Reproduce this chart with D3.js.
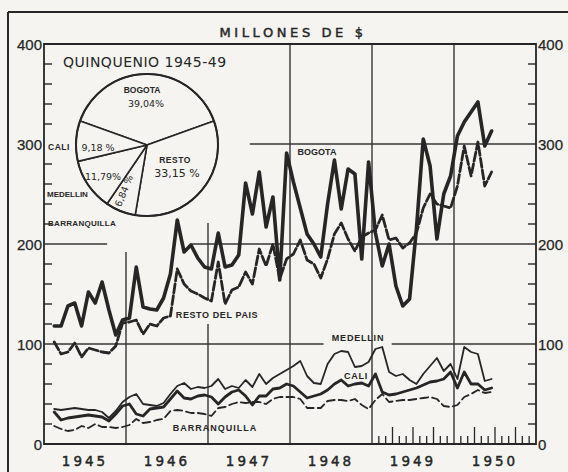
<!DOCTYPE html>
<html><head><meta charset="utf-8">
<script src="https://cdn.jsdelivr.net/npm/d3@7"></script>
<style>
body{margin:0;background:#f5f4f0;}
svg{display:block;}
text{fill:#262626;}
</style>
</head><body>
<svg id="c" width="568" height="472"></svg>
<script>
// ---- DATA (millones de $, monthly, first value = Feb 1945) ----
const firstYear = 1945, firstMonth = 1;
const bogota = [118,118,138,141,118,152,141,162,134,109,124,126,177,137,135,134,146,170,224,192,
  199,186,177,175,211,177,179,189,261,230,272,217,247,164,291,262,236,210,200,187,
  240,284,235,275,270,185,282,211,178,200,158,138,145,215,305,278,205,250,268,308,
  322,332,342,298,313];
const resto = [102,90,92,101,87,96,94,92,91,98,121,122,124,110,120,118,126,128,175,160,
  153,150,146,143,182,140,154,157,172,160,195,178,200,165,185,190,204,184,180,166,
  185,210,221,205,193,207,211,214,229,204,206,196,201,211,236,250,240,238,236,258,
  298,268,302,258,272];
const medellin = [35,34,35,36,35,34,34,32,26,33,42,47,50,40,39,38,41,50,58,61,
  55,57,56,58,65,55,58,56,64,57,70,60,66,70,74,78,83,68,61,60,
  80,90,93,92,77,78,82,95,97,72,68,70,64,60,70,78,86,73,80,65,
  97,92,90,63,65];
const cali = [32,24,26,27,28,29,28,27,23,30,38,40,30,28,35,36,37,45,53,46,
  45,48,49,47,40,47,52,54,48,39,48,48,55,56,60,58,52,46,48,50,
  54,60,64,58,60,61,58,70,52,49,50,52,54,56,59,62,63,65,72,56,
  72,60,60,54,56];
const barranquilla = [18,15,13,14,18,16,20,17,17,16,17,19,25,21,22,24,25,33,34,33,
  31,31,30,28,36,37,40,42,41,42,42,40,45,47,47,47,45,36,36,36,
  43,44,44,43,45,39,35,44,50,42,43,44,44,45,46,47,45,38,37,39,
  47,50,54,51,52];
const yTickLabels = [0,100,200,300,400];
const yearLabels = ["1945","1946","1947","1948","1949","1950"];
const pieNames = ["BOGOTA","RESTO","BARRANQUILLA","MEDELLIN","CALI"];
const pieShares = [39.04,33.15,6.84,11.79,9.18];
const pieShareText = ["39,04%","33,15 %","6,84 %","11,79%","9,18 %"];

// ---- CHART ----
const ink = "#262626";
const bg = "#f5f4f0";
const svg = d3.select("#c");
const x = d3.scaleLinear().domain([1945,1951]).range([44,536]);
const y = d3.scaleLinear().domain([0,400]).range([444,44]);
const tOf = i => firstYear + (firstMonth + i + 0.5)/12;

// outer frame
svg.append("line").attr("x1",8).attr("x2",568).attr("y1",12).attr("y2",12).attr("stroke",ink).attr("stroke-width",2);
svg.append("line").attr("x1",8).attr("x2",8).attr("y1",12).attr("y2",472).attr("stroke",ink).attr("stroke-width",2);

// title
svg.append("text").attr("x",293).attr("y",37).attr("text-anchor","middle")
  .attr("font-family","DejaVu Sans, sans-serif").attr("font-size",13).attr("letter-spacing",3.6)
  .attr("stroke",ink).attr("stroke-width",0.45)
  .text("MILLONES DE $");

const g = svg.append("g");
// gridlines
const hGrid = [
  {v:100, segs:[[1945,1948.41],[1949.24,1951]]},
  {v:200, segs:[[1945,1945.77],[1946.8,1951]]},
  {v:300, segs:[[1947.51,1951]]}
];
hGrid.forEach(h => h.segs.forEach(s => {
  g.append("line").attr("x1",x(s[0])).attr("x2",x(s[1])).attr("y1",y(h.v)).attr("y2",y(h.v))
   .attr("stroke","#363636").attr("stroke-width",1.4);
}));
const vGrid = [
  {t:1946, segs:[[0,192]]},
  {t:1947, segs:[[0,120],[144,221]]},
  {t:1948, segs:[[0,400]]},
  {t:1949, segs:[[0,400]]},
  {t:1950, segs:[[0,400]]}
];
vGrid.forEach(v => v.segs.forEach(s => {
  g.append("line").attr("x1",x(v.t)).attr("x2",x(v.t)).attr("y1",y(s[0])).attr("y2",y(s[1]))
   .attr("stroke","#363636").attr("stroke-width",1.4);
}));

// plot frame
g.append("path").attr("d",`M${x(1945)},${y(0)}V${y(400)}H${x(1951)}V${y(0)}Z`)
  .attr("fill","none").attr("stroke",ink).attr("stroke-width",1.8);

// minor y ticks
d3.range(20,400,20).filter(v => v%100!==0).forEach(v => {
  g.append("line").attr("x1",x(1945)).attr("x2",x(1945)+8).attr("y1",y(v)).attr("y2",y(v)).attr("stroke",ink).attr("stroke-width",1.4);
  g.append("line").attr("x1",x(1951)).attr("x2",x(1951)-8).attr("y1",y(v)).attr("y2",y(v)).attr("stroke",ink).attr("stroke-width",1.4);
});
// monthly ticks 1949-1950
d3.range(1,24).filter(m => m!==12).forEach(m => {
  const t = 1949 + m/12;
  g.append("line").attr("x1",x(t)).attr("x2",x(t)).attr("y1",y(0)).attr("y2",y(0) - (m%3===0 ? 17 : 8))
   .attr("stroke",ink).attr("stroke-width",1.3);
});

// y labels
const yl = svg.append("g").attr("font-family","Liberation Sans Narrow, Liberation Sans, sans-serif").attr("font-size",15)
  .attr("stroke",ink).attr("stroke-width",0.25);
yTickLabels.forEach(v => {
  yl.append("text").attr("x",x(1945)-2).attr("y",y(v)+6).attr("text-anchor","end").text(v);
  yl.append("text").attr("x",x(1951)+2).attr("y",y(v)+6).attr("text-anchor","start").text(v);
});
// year labels
yearLabels.forEach((lab,i) => {
  svg.append("text").attr("x",x(+lab + 0.5)).attr("y",466).attr("text-anchor","middle")
   .attr("font-family","DejaVu Sans, sans-serif").attr("font-size",13.5).attr("letter-spacing",3)
   .attr("stroke",ink).attr("stroke-width",0.45)
   .text(lab);
});

// series
const series = [
  {vals:barranquilla, w:1.8, dash:"8,4"},
  {vals:medellin, w:1.8, dash:null},
  {vals:cali, w:2.8, dash:null},
  {vals:resto, w:2.8, dash:"9,3"},
  {vals:bogota, w:3.6, dash:null}
];
const line = d3.line().x((d,i) => x(tOf(i))).y(d => y(d));
series.forEach(s => {
  svg.append("path").attr("d",line(s.vals)).attr("fill","none").attr("stroke",ink)
    .attr("stroke-width",s.w).attr("stroke-linejoin","round").attr("stroke-linecap","round")
    .attr("stroke-dasharray",s.dash);
});

// series labels
const lab = svg.append("g").attr("font-family","Liberation Sans, sans-serif").attr("font-weight","bold").attr("font-size",9);
lab.append("text").attr("x",317).attr("y",155).attr("text-anchor","middle").text("BOGOTA");
lab.append("text").attr("x",217).attr("y",318).attr("text-anchor","middle").attr("letter-spacing",0.6).text("RESTO DEL PAIS");
lab.append("text").attr("x",358).attr("y",341).attr("text-anchor","middle").attr("letter-spacing",0.8).text("MEDELLIN");
lab.append("text").attr("x",356).attr("y",379).attr("text-anchor","middle").attr("letter-spacing",0.8).text("CALI");
lab.append("text").attr("x",215).attr("y",431).attr("text-anchor","middle").attr("letter-spacing",1).text("BARRANQUILLA");

// pie
svg.append("text").attr("x",63).attr("y",67).attr("font-family","DejaVu Sans, sans-serif")
  .attr("font-size",14).attr("letter-spacing",0.5).text("QUINQUENIO 1945-49");
const cx = 147, cy = 145, r = 71;
const a0 = -70.3*Math.PI/180;
const pie = d3.pie().sort(null).startAngle(a0).endAngle(a0 + 2*Math.PI)(pieShares);
const arc = d3.arc().innerRadius(0).outerRadius(r);
const pg = svg.append("g").attr("transform",`translate(${cx},${cy})`);
pg.selectAll("path").data(pie).join("path").attr("d",arc)
  .attr("fill",bg).attr("stroke",ink).attr("stroke-width",1.6).attr("stroke-linejoin","round");
pg.append("circle").attr("r",r).attr("fill","none").attr("stroke",ink).attr("stroke-width",2);
const small = {"font-family":"Liberation Sans, sans-serif","font-size":8.5,"font-weight":"bold"};
const num = {"font-family":"DejaVu Sans, sans-serif","font-size":9.5};
function t(gsel, attrs, str, x0, y0, anchor){
  const e = gsel.append("text").attr("x",x0).attr("y",y0).attr("text-anchor",anchor||"middle").text(str);
  Object.entries(attrs).forEach(([k,v]) => e.attr(k,v));
  return e;
}
t(pg, small, pieNames[0], -5, -52);
t(pg, num, pieShareText[0], -1, -38);
t(pg, small, pieNames[1], 28, 18).attr("letter-spacing",0.5);
t(pg, Object.assign({}, num, {"font-size":11}), pieShareText[1], 30, 32);
t(pg, num, pieShareText[4], -49, 6);
t(pg, num, pieShareText[3], -44, 35);
t(pg, num, pieShareText[2], 0, 0).attr("transform","translate(-20,47) rotate(-68)");
// outside pie names
t(svg, small, pieNames[4], 48, 150, "start").attr("letter-spacing",0.5);
t(svg, Object.assign({}, small, {"font-size":8}), pieNames[3], 47, 197, "start");
t(svg, Object.assign({}, small, {"font-size":8}), pieNames[2], 48, 226, "start").attr("letter-spacing",0.3);
</script>
</body></html>
